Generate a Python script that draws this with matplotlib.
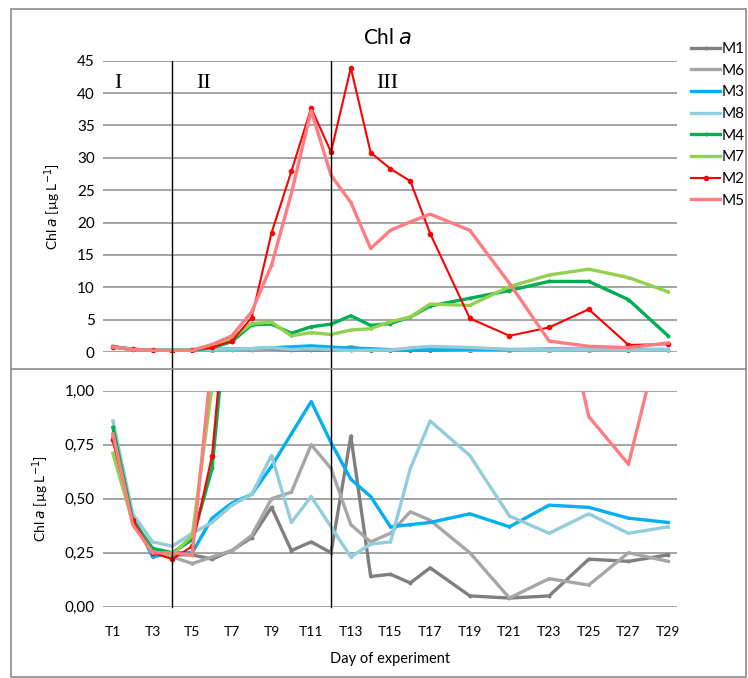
import matplotlib.pyplot as plt
from matplotlib.ticker import FuncFormatter
from matplotlib.patches import Rectangle
from matplotlib.lines import Line2D

plt.rcParams['font.family'] = ['Lato', 'DejaVu Sans']

# Sampling days (T1..T17 daily, then every second day)
days = list(range(1, 18)) + [19, 21, 23, 25, 27, 29]

# Chl a values [ug/L] per mesocosm
m1 = [0.78, 0.40, 0.24, 0.24, 0.24, 0.22, 0.26, 0.32, 0.46, 0.26, 0.30, 0.25,
      0.79, 0.14, 0.15, 0.11, 0.18, 0.05, 0.04, 0.05, 0.22, 0.21, 0.24]
m6 = [0.79, 0.41, 0.25, 0.23, 0.20, 0.23, 0.26, 0.33, 0.50, 0.53, 0.75, 0.64,
      0.38, 0.30, 0.34, 0.44, 0.40, 0.25, 0.04, 0.13, 0.10, 0.25, 0.21]
m3 = [0.78, 0.42, 0.23, 0.25, 0.25, 0.41, 0.48, 0.52, 0.65, 0.80, 0.95, 0.76,
      0.59, 0.51, 0.37, 0.38, 0.39, 0.43, 0.37, 0.47, 0.46, 0.41, 0.39]
m8 = [0.86, 0.43, 0.30, 0.28, 0.34, 0.39, 0.47, 0.52, 0.70, 0.39, 0.51, 0.37,
      0.23, 0.29, 0.30, 0.64, 0.86, 0.70, 0.42, 0.34, 0.43, 0.34, 0.37]
m4 = [0.83, 0.40, 0.27, 0.25, 0.31, 0.64, 1.6, 4.2, 4.3, 2.9, 3.9, 4.3,
      5.6, 4.1, 4.4, 5.4, 7.1, 8.3, 9.5, 10.9, 10.9, 8.1, 2.5]
m7 = [0.71, 0.39, 0.25, 0.24, 0.33, 1.02, 2.1, 4.4, 4.6, 2.5, 3.0, 2.7,
      3.4, 3.6, 4.7, 5.4, 7.4, 7.2, 10.1, 11.9, 12.8, 11.5, 9.3]
m2 = [0.77, 0.40, 0.25, 0.22, 0.28, 0.70, 1.7, 5.3, 18.4, 27.9, 37.7, 30.9,
      43.9, 30.8, 28.3, 26.4, 18.3, 5.2, 2.5, 3.8, 6.6, 1.1, 1.2]
m5 = [0.80, 0.38, 0.25, 0.25, 0.24, 1.16, 2.5, 6.2, 13.4, 24.5, 37.3, 27.3,
      23.1, 16.0, 18.8, 20.1, 21.3, 18.8, 10.6, 1.7, 0.88, 0.66, 1.4]

series = [
    ('M1', m1, '#7f7f7f', 2.4, 1.8),
    ('M6', m6, '#a6a6a6', 2.4, 1.2),
    ('M3', m3, '#00b0f0', 2.4, 1.2),
    ('M8', m8, '#92cddc', 2.4, 1.2),
    ('M4', m4, '#00b050', 2.4, 1.8),
    ('M7', m7, '#92d050', 2.4, 1.2),
    ('M2', m2, '#ff0000', 1.5, 3.0),
    ('M5', m5, '#ff7c80', 2.4, 1.2),
]

tick_days = list(range(1, 30, 2))
tick_labels = ['T%d' % d for d in tick_days]

W, H = 748, 678
fig = plt.figure(figsize=(W / 100, H / 100), dpi=100)

def frac(x0, y0, x1, y1):
    return [x0 / W, 1 - y1 / H, (x1 - x0) / W, (y1 - y0) / H]

ax1 = fig.add_axes(frac(103, 60.7, 677, 352))
ax2 = fig.add_axes(frac(103, 390.7, 677, 606.7))

for ax in (ax1, ax2):
    for name, vals, col, lw, ms in series:
        ax.plot(days, vals, color=col, lw=lw, marker='o', ms=ms, label=name)
    ax.set_xlim(0.5, 29.45)
    ax.grid(axis='y', color='#8c8c8c', lw=1.1)
    ax.set_axisbelow(True)
    for s in ax.spines.values():
        s.set_visible(False)
    ax.tick_params(length=0, labelsize=11, pad=6)
    ax.set_ylabel('Chl $\\it{a}$ [µg L$^{-1}$]', fontsize=10, labelpad=10)

ax1.set_ylim(0, 45)
ax1.set_yticks(range(0, 46, 5))
ax1.set_xticks([])

ax2.set_ylim(0, 1.0)
ax2.set_yticks([0, 0.25, 0.5, 0.75, 1.0])
ax2.yaxis.set_major_formatter(FuncFormatter(lambda v, p: ('%.2f' % v).replace('.', ',')))
ax2.set_xticks(tick_days)
ax2.set_xticklabels(tick_labels, fontsize=10)
ax2.tick_params(axis='x', pad=14)
ax2.set_xlabel('Day of experiment', fontsize=10.5, labelpad=10)

# phase boundaries
for d in (4, 12):
    ax1.axvline(d, ymin=0, ymax=1, color='black', lw=1)
    ax1.plot([d, d], [0, -17 / 291 * 45], color='black', lw=1, clip_on=False)
    ax2.axvline(d, ymin=0, ymax=(606.7 - 370) / 216, color='black', lw=1, clip_on=False)

for txt, d in (('I', 1.05), ('II', 5.2), ('III', 14.3)):
    ax1.text(d, 41.5, txt, family='Liberation Serif', fontsize=16, va='center')

fig.text(388 / W, 1 - 38 / H, 'Chl $\\it{a}$', fontsize=15, ha='center', va='center')

# frame and panel separator
fig.add_artist(Rectangle((11 / W, 1 - 677 / H), 735 / W, 668 / H, transform=fig.transFigure,
                         fill=False, edgecolor='#8c8c8c', lw=1.2))
fig.add_artist(Line2D([11 / W, 746 / W], [1 - 369 / H] * 2, transform=fig.transFigure,
                      color='#8c8c8c', lw=1.2))

handles, labels = ax1.get_legend_handles_labels()
fig.legend(handles, labels, loc='upper left', bbox_to_anchor=(685 / W, 1 - 36 / H),
           frameon=False, fontsize=11, handlelength=1.9, handletextpad=0.1,
           labelspacing=0.5, borderaxespad=0)

fig.savefig('out.png', dpi=100)
